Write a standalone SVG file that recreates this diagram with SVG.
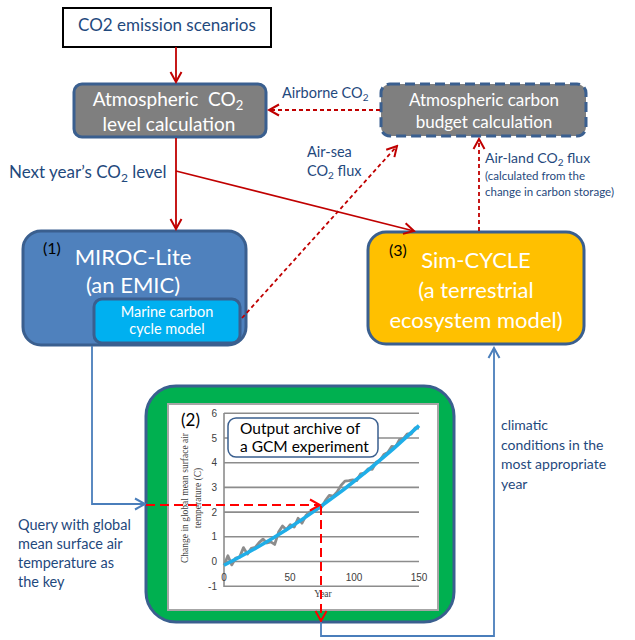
<svg xmlns="http://www.w3.org/2000/svg" width="635" height="640" viewBox="0 0 635 640">
<defs>
<style>
.lbl{font-family:Lato,"Open Sans","Liberation Sans",sans-serif;fill:#1F497D}
.wt{font-family:Lato,"Open Sans","Liberation Sans",sans-serif;fill:#ffffff}
.bk{font-family:Lato,"Open Sans","Liberation Sans",sans-serif;fill:#000000}
.red{stroke:#C00000;stroke-width:1.8;fill:none}
.reddash{stroke:#C00000;stroke-width:1.8;fill:none;stroke-dasharray:4 3}
.blue{stroke:#4A7EBB;stroke-width:1.8;fill:none}
.qry{stroke:#FF0000;stroke-width:2;fill:none;stroke-dasharray:9 5}
.grid{stroke:#8C8C8C;stroke-width:1.6}
.tick{font-family:"Liberation Sans",Arial,sans-serif;font-size:10px;fill:#404040}
.ax{font-family:"Liberation Serif","Times New Roman",serif;font-size:9.5px;fill:#404040}
</style>
<marker id="ar" markerUnits="userSpaceOnUse" markerWidth="14" markerHeight="14" refX="12" refY="7" orient="auto">
<path d="M2,1.5 L12,7 L2,12.5" fill="none" stroke="#C00000" stroke-width="2"/>
</marker>
<marker id="arq" markerUnits="userSpaceOnUse" markerWidth="14" markerHeight="14" refX="12" refY="7" orient="auto">
<path d="M2,1.5 L12,7 L2,12.5" fill="none" stroke="#FF0000" stroke-width="2"/>
</marker>
<marker id="ab" markerUnits="userSpaceOnUse" markerWidth="14" markerHeight="14" refX="12" refY="7" orient="auto">
<path d="M2,1.5 L12,7 L2,12.5" fill="none" stroke="#4A7EBB" stroke-width="2"/>
</marker>
</defs>
<rect width="635" height="640" fill="#ffffff"/>

<g id="n-emission">
<rect x="63" y="8" width="208" height="39" fill="#ffffff" stroke="#000000" stroke-width="2"/>
<text class="lbl" x="167" y="31" font-size="17" text-anchor="middle">CO2 emission scenarios</text>
</g>

<g id="n-atmco2">
<rect x="74" y="84" width="192" height="53" rx="8" fill="#7F7F7F" stroke="#3A5F8F" stroke-width="3"/>
<text class="wt" x="168" y="106" font-size="19" text-anchor="middle">Atmospheric&#160; CO<tspan font-size="13" dy="4">2</tspan></text>
<text class="wt" x="169" y="131" font-size="19" text-anchor="middle">level calculation</text>
</g>

<g id="n-budget">
<rect x="381" y="84" width="205" height="52" rx="9" fill="#7F7F7F" stroke="#3A5F8F" stroke-width="3" stroke-dasharray="10 5"/>
<text class="wt" x="484" y="106" font-size="17" text-anchor="middle">Atmospheric carbon</text>
<text class="wt" x="484" y="128" font-size="17" text-anchor="middle">budget calculation</text>
</g>

<g id="n-miroc">
<rect x="23" y="231" width="223" height="114" rx="18" fill="#4F81BD" stroke="#3A5F8F" stroke-width="3"/>
<text class="bk" x="43" y="254" font-size="16">(1)</text>
<text class="wt" x="133" y="265" font-size="22" text-anchor="middle">MIROC-Lite</text>
<text class="wt" x="133" y="293" font-size="22" text-anchor="middle">(an EMIC)</text>
</g>

<g id="n-marine">
<rect x="94" y="299" width="146" height="44" rx="8" fill="#00B0F0" stroke="#3A5F8F" stroke-width="3"/>
<text class="wt" x="167" y="317" font-size="14.5" text-anchor="middle">Marine carbon</text>
<text class="wt" x="167" y="334" font-size="14.5" text-anchor="middle">cycle model</text>
</g>

<g id="n-simcycle">
<rect x="368" y="232" width="216" height="112" rx="18" fill="#FFC000" stroke="#3A5F8F" stroke-width="3"/>
<text class="bk" x="389" y="256" font-size="16">(3)</text>
<text class="wt" x="476" y="268" font-size="22" text-anchor="middle">Sim-CYCLE</text>
<text class="wt" x="476" y="298" font-size="22" text-anchor="middle">(a terrestrial</text>
<text class="wt" x="476" y="328" font-size="22" text-anchor="middle">ecosystem model)</text>
</g>

<g id="n-gcm">
<rect x="146" y="386" width="308" height="236" rx="30" fill="#00B050" stroke="#3A5F8F" stroke-width="3"/>
<rect x="168" y="404" width="270" height="206" fill="#ffffff" stroke="#A6A6A6" stroke-width="2"/>
<g>
<line class="grid" x1="224" y1="413.3" x2="419" y2="413.3"/>
<line class="grid" x1="224" y1="438" x2="419" y2="438"/>
<line class="grid" x1="224" y1="462.7" x2="419" y2="462.7"/>
<line class="grid" x1="224" y1="487.4" x2="419" y2="487.4"/>
<line class="grid" x1="224" y1="512.1" x2="419" y2="512.1"/>
<line class="grid" x1="224" y1="536.8" x2="419" y2="536.8"/>
<line class="grid" x1="224" y1="561.5" x2="419" y2="561.5"/>
<line class="grid" x1="224" y1="586.2" x2="419" y2="586.2"/>
<line class="grid" x1="224" y1="413" x2="224" y2="587"/>
</g>
<g text-anchor="end">
<text class="tick" x="217" y="417">6</text>
<text class="tick" x="217" y="442">5</text>
<text class="tick" x="217" y="466">4</text>
<text class="tick" x="217" y="491">3</text>
<text class="tick" x="217" y="516">2</text>
<text class="tick" x="217" y="540">1</text>
<text class="tick" x="217" y="565">0</text>
<text class="tick" x="217" y="590">-1</text>
</g>
<g text-anchor="middle">
<text class="tick" x="224" y="581">0</text>
<text class="tick" x="290" y="581">50</text>
<text class="tick" x="354" y="581">100</text>
<text class="tick" x="419" y="581">150</text>
<text class="ax" x="323" y="597">Year</text>
</g>
<text class="ax" text-anchor="middle" transform="translate(188,498) rotate(-90)">Change in global mean surface air</text>
<text class="ax" text-anchor="middle" transform="translate(201,498) rotate(-90)">temperature (C)</text>
<polyline fill="none" stroke="#8C8C8C" stroke-width="2.8" stroke-linejoin="round" points="224,565.2 227.9,555.8 231.8,564.9 235.7,558 239.6,557.1 243.5,547.6 247.4,554.1 251.3,548.3 255.2,547.3 259.1,542.6 263,539.1 266.9,543 270.8,541.8 274.7,544.4 278.6,532.1 282.5,526 286.4,529.7 290.3,524.7 294.2,527.1 298.1,518.3 302,523.2 305.9,515.6 309.8,511.7 313.7,510.2 317.6,508.7 321.5,507.2 325.4,500.6 329.3,495.3 333.2,496.2 337.1,492 341,485.4 344.9,481.1 348.8,480.6 352.7,480 356.6,480.7 360.5,473.9 364.4,473.2 368.3,468.8 372.2,469.3 376.1,462.3 380,460.3 383.9,454.5 387.8,452.4 391.7,446.5 395.6,446.8 399.5,439.7 403.4,438.6 407.3,433.9 411.2,434 415.1,428 419,428.1"/>
<path d="M224,565.2 Q321.5,516.6 419,425.6" fill="none" stroke="#1FAEE8" stroke-width="3.5"/>
<text class="bk" x="181" y="426" font-size="17">(2)</text>
<rect x="228" y="418" width="150" height="39" rx="8" fill="#ffffff" stroke="#3A5F8F" stroke-width="1.5"/>
<text class="bk" x="240" y="434" font-size="15.5">Output archive of</text>
<text class="bk" x="240" y="452" font-size="15.5">a GCM experiment</text>
</g>

<g id="connectors">
<line class="red" x1="176" y1="47" x2="176" y2="82" marker-end="url(#ar)"/>
<line class="reddash" x1="380" y1="110" x2="269" y2="110" marker-end="url(#ar)"/>
<line class="red" x1="176" y1="138" x2="176" y2="229" marker-end="url(#ar)"/>
<line class="red" x1="176" y1="171" x2="414" y2="231" marker-end="url(#ar)"/>
<line class="reddash" x1="242" y1="318" x2="397" y2="146" marker-end="url(#ar)"/>
<line class="reddash" x1="479" y1="231" x2="479" y2="139" marker-end="url(#ar)"/>
<polyline class="blue" points="92,346 92,504 145,504" marker-end="url(#ab)"/>
<line class="qry" x1="146" y1="505" x2="320" y2="505" marker-end="url(#arq)"/>
<line class="qry" x1="321" y1="506" x2="321" y2="621" marker-end="url(#arq)"/>
<polyline class="blue" points="321,622 321,636 494,636 494,348" marker-end="url(#ab)"/>
</g>

<g id="labels">
<text class="lbl" x="282" y="98" font-size="14.5">Airborne CO<tspan font-size="10" dy="3">2</tspan></text>
<text class="lbl" x="307" y="157" font-size="14.5">Air-sea</text>
<text class="lbl" x="307" y="176" font-size="14.5">CO<tspan font-size="10" dy="3">2</tspan><tspan dy="-3"> flux</tspan></text>
<text class="lbl" x="485" y="163" font-size="14">Air-land CO<tspan font-size="10" dy="3">2</tspan><tspan dy="-3"> flux</tspan></text>
<text class="lbl" x="485" y="180" font-size="11.5">(calculated from the</text>
<text class="lbl" x="485" y="196" font-size="11.5">change in carbon storage)</text>
<text class="lbl" x="9" y="178" font-size="17">Next year’s CO<tspan font-size="12" dy="4">2</tspan><tspan dy="-4"> level</tspan></text>
<text class="lbl" x="18" y="530" font-size="14.5">Query with global</text>
<text class="lbl" x="18" y="549" font-size="14.5">mean surface air</text>
<text class="lbl" x="18" y="568" font-size="14.5">temperature as</text>
<text class="lbl" x="18" y="587" font-size="14.5">the key</text>
<text class="lbl" x="501" y="430" font-size="14">climatic</text>
<text class="lbl" x="501" y="450" font-size="14">conditions in the</text>
<text class="lbl" x="501" y="469" font-size="14">most appropriate</text>
<text class="lbl" x="501" y="489" font-size="14">year</text>
</g>
</svg>
